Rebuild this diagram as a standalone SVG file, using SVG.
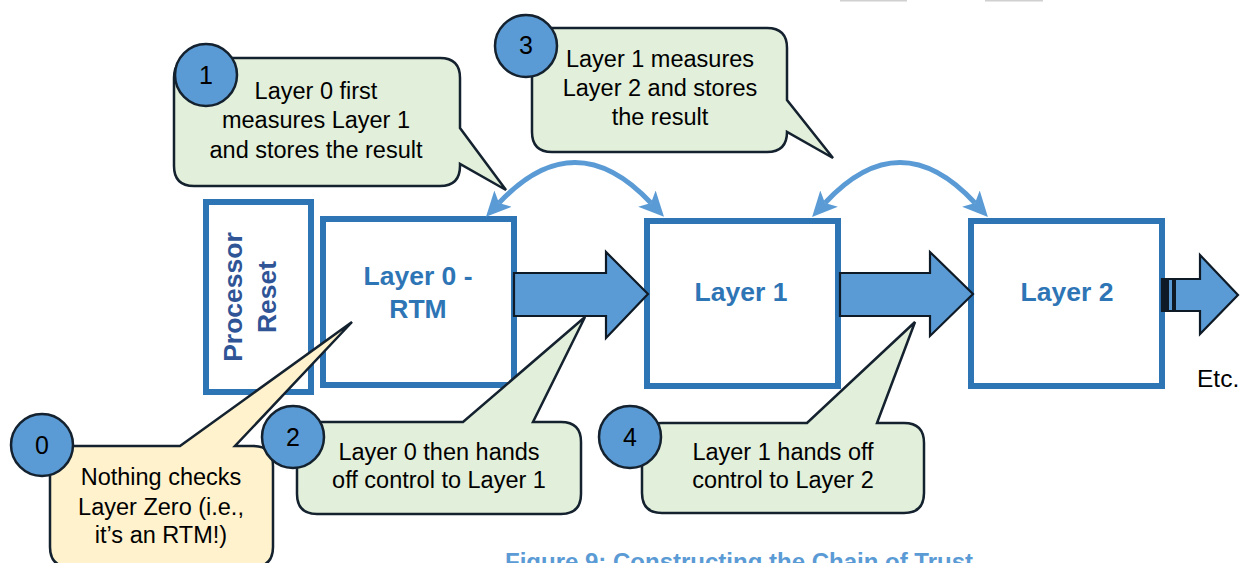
<svg xmlns="http://www.w3.org/2000/svg" width="1243" height="563" viewBox="0 0 1243 563">
<style>
text{font-family:"Liberation Sans",Arial,sans-serif}
.box{fill:#fff;stroke:#2E75B6;stroke-width:6}
.title{font-size:26.5px;font-weight:bold;fill:#2E75B6;text-anchor:middle}
.reset{font-size:26.5px;font-weight:bold;fill:#2F5597;text-anchor:middle}
.blk{fill:#5B9BD5;stroke:#0E1A26;stroke-width:2.2;stroke-linejoin:miter}
.green{fill:#E2EFDA;stroke:#14212E;stroke-width:2.5;stroke-linejoin:miter}
.yellow{fill:#FFF2CC;stroke:#14212E;stroke-width:2.5;stroke-linejoin:miter}
.num{fill:#5B9BD5;stroke:#14212E;stroke-width:2.5}
.numt{font-size:25px;fill:#000;text-anchor:middle}
.ct{font-size:23.5px;fill:#000;text-anchor:middle}
.arc{fill:none;stroke:#5B9BD5;stroke-width:5}
</style>
<defs>
<marker id="ah" markerUnits="userSpaceOnUse" markerWidth="28" markerHeight="26" refX="6" refY="12" orient="auto-start-reverse" viewBox="0 0 28 24">
<path d="M0,0 L25,12 L0,24 L6,12 Z" fill="#5B9BD5"/>
</marker>
</defs>
<rect x="840" y="0" width="67" height="1.5" fill="#d0d0d0"/>
<rect x="985" y="0" width="58" height="1.5" fill="#d0d0d0"/>

<g id="processor-reset">
<rect class="box" x="206" y="202" width="105" height="190"/>
<text class="reset" transform="translate(242,297) rotate(-90)">Processor</text>
<text class="reset" transform="translate(276,297) rotate(-90)">Reset</text>
</g>
<g id="layer0">
<rect class="box" x="323" y="219" width="191" height="166"/>
<text class="title" x="418" y="285">Layer 0 -</text>
<text class="title" x="418" y="318">RTM</text>
</g>
<g id="layer1">
<rect class="box" x="647" y="221" width="191" height="165"/>
<text class="title" x="741" y="301">Layer 1</text>
</g>
<g id="layer2">
<rect class="box" x="971" y="221" width="191" height="165"/>
<text class="title" x="1067" y="301">Layer 2</text>
</g>

<g id="connectors">
<path class="arc" d="M499,203 Q575,122 651,203" marker-start="url(#ah)" marker-end="url(#ah)"/>
<path class="arc" d="M825,203 Q900,122 975,203" marker-start="url(#ah)" marker-end="url(#ah)"/>
<polygon class="blk" points="514,273 606,273 606,252 648,294 606,338 606,316 514,316"/>
<polygon class="blk" points="840,273 930,273 930,252 973,294 930,336 930,316 840,316"/>
<g id="etc-arrow">
<polygon class="blk" points="1162,279 1200,279 1200,255 1238,295 1200,334 1200,311 1162,311"/>
<rect x="1162" y="279" width="7" height="32" fill="#0E1A26"/>
<rect x="1172" y="279" width="4" height="32" fill="#0E1A26"/>
</g>
</g>
<text x="1197" y="387" style="font-size:24.5px;fill:#000">Etc.</text>

<g id="callout1">
<path class="green" d="M194,58 H440 Q460,58 460,78 V128 L506,190 L460,164 V166 Q460,186 440,186 H194 Q174,186 174,166 V78 Q174,58 194,58 Z"/>
<text class="ct" x="316" y="99">Layer 0 first</text>
<text class="ct" x="316" y="128">measures Layer 1</text>
<text class="ct" x="316" y="158">and stores the result</text>
<circle class="num" cx="206" cy="75" r="31"/>
<text class="numt" x="206" y="84">1</text>
</g>
<g id="callout3">
<path class="green" d="M552,28 H767 Q787,28 787,48 V100 L833,158 L787,132 Q787,152 767,152 H552 Q532,152 532,132 V48 Q532,28 552,28 Z"/>
<text class="ct" x="660" y="67">Layer 1 measures</text>
<text class="ct" x="660" y="96">Layer 2 and stores</text>
<text class="ct" x="660" y="125">the result</text>
<circle class="num" cx="526" cy="46" r="31"/>
<text class="numt" x="526" y="54">3</text>
</g>
<g id="callout0">
<path class="yellow" d="M70,446 H180 L352,322 L235,446 H253 Q273,446 273,466 V547 Q273,567 253,567 H70 Q50,567 50,547 V466 Q50,446 70,446 Z"/>
<text class="ct" x="161" y="485">Nothing checks</text>
<text class="ct" x="161" y="515">Layer Zero (i.e.,</text>
<text class="ct" x="161" y="543">it’s an RTM!)</text>
<circle class="num" cx="42" cy="445" r="31"/>
<text class="numt" x="42" y="454">0</text>
</g>
<g id="callout2">
<path class="green" d="M317,422 H463 L585,317 L533,422 H561 Q581,422 581,442 V494 Q581,514 561,514 H317 Q297,514 297,494 V442 Q297,422 317,422 Z"/>
<text class="ct" x="439" y="460">Layer 0 then hands</text>
<text class="ct" x="439" y="488">off control to Layer 1</text>
<circle class="num" cx="293" cy="437" r="31"/>
<text class="numt" x="293" y="446">2</text>
</g>
<g id="callout4">
<path class="green" d="M662,423 H807 L915,322 L877,423 H904 Q924,423 924,443 V493 Q924,513 904,513 H662 Q642,513 642,493 V443 Q642,423 662,423 Z"/>
<text class="ct" x="783" y="460">Layer 1 hands off</text>
<text class="ct" x="783" y="488">control to Layer 2</text>
<circle class="num" cx="630" cy="437" r="31"/>
<text class="numt" x="630" y="446">4</text>
</g>
<text x="739" y="570" style="font-size:24px;font-weight:bold;fill:#5B9BD5;text-anchor:middle">Figure 9: Constructing the Chain of Trust</text>
</svg>
